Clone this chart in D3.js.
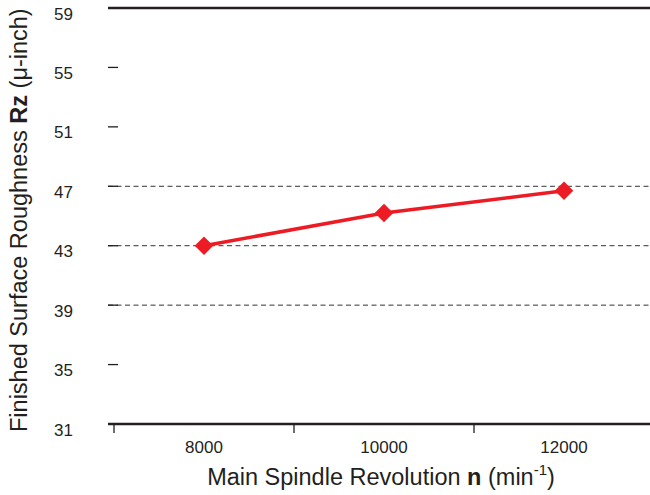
<!DOCTYPE html>
<html>
<head>
<meta charset="utf-8">
<script src="https://cdn.jsdelivr.net/npm/d3@7"></script>
<style>
  body { margin: 0; background: #fff; }
  text { font-family: "Liberation Sans", Arial, sans-serif; fill: #231f20; }
</style>
</head>
<body>
<div id="chart"></div>
<script>
// data
const categories = ["8000", "10000", "12000"];
const roughness = [43.0, 45.2, 46.7];
const yTicks = [31, 35, 39, 43, 47, 51, 55, 59];
const dashedTicks = [39, 43, 47];

const width = 650;
const height = 495;

const svg = d3.select("#chart")
    .append("svg")
    .attr("width", width)
    .attr("height", height);

const x = d3.scaleBand()
    .domain(categories)
    .range([114, 654])
    .padding(0);

const y = d3.scaleLinear()
    .domain([31, 59])
    .range([424, 8]);

const plotLeft = 108;
const plotRight = 650;

// y ticks and labels
yTicks.forEach(t => {
    const yy = y(t);
    if (t === 59 || t === 31) {
        svg.append("line")
            .attr("x1", plotLeft).attr("x2", plotRight)
            .attr("y1", yy).attr("y2", yy)
            .attr("stroke", "#231f20")
            .attr("stroke-width", 2.5);
    } else {
        if (dashedTicks.includes(t)) {
            svg.append("line")
                .attr("x1", plotLeft).attr("x2", plotRight)
                .attr("y1", yy).attr("y2", yy)
                .attr("stroke", "#333")
                .attr("stroke-width", 1)
                .attr("stroke-dasharray", "5,3.5");
        }
        svg.append("line")
            .attr("x1", plotLeft).attr("x2", plotLeft + 10)
            .attr("y1", yy).attr("y2", yy)
            .attr("stroke", "#231f20")
            .attr("stroke-width", 1.3);
    }
    svg.append("text")
        .attr("x", 73)
        .attr("y", yy + 11.5)
        .attr("text-anchor", "end")
        .attr("font-size", 17)
        .text(t);
});

// x ticks at band edges
const edges = categories.map(c => x(c)).concat([x.range()[1]]);
edges.forEach(e => {
    svg.append("line")
        .attr("x1", e).attr("x2", e)
        .attr("y1", y(31)).attr("y2", y(31) + 9)
        .attr("stroke", "#231f20")
        .attr("stroke-width", 1.3);
});

svg.selectAll(".xlab")
    .data(categories)
    .enter()
    .append("text")
    .attr("x", d => x(d) + x.bandwidth() / 2)
    .attr("y", 453)
    .attr("text-anchor", "middle")
    .attr("font-size", 17)
    .text(d => d);

// axis titles
const xt = svg.append("text")
    .attr("x", 381)
    .attr("y", 485)
    .attr("text-anchor", "middle")
    .attr("font-size", 23.5);
xt.append("tspan").text("Main Spindle Revolution ");
xt.append("tspan").attr("font-weight", "bold").text("n");
xt.append("tspan").text(" (min");
xt.append("tspan").attr("font-size", 15).attr("dy", -10).text("-1");
xt.append("tspan").attr("dy", 10).text(")");

const yt = svg.append("text")
    .attr("transform", "translate(27,432) rotate(-90)")
    .attr("text-anchor", "start")
    .attr("font-size", 23.5);
yt.append("tspan").text("Finished Surface Roughness ");
yt.append("tspan").attr("font-weight", "bold").text("Rz");
yt.append("tspan").text(" (\u03bc-inch)");

// series
const line = d3.line()
    .x((d, i) => x(categories[i]) + x.bandwidth() / 2)
    .y(d => y(d));

svg.append("path")
    .datum(roughness)
    .attr("d", line)
    .attr("fill", "none")
    .attr("stroke", "#ed1c24")
    .attr("stroke-width", 3.5);

svg.selectAll(".pt")
    .data(roughness)
    .enter()
    .append("path")
    .attr("d", d3.symbol().type(d3.symbolDiamond2).size(220))
    .attr("transform", (d, i) => "translate(" + (x(categories[i]) + x.bandwidth() / 2) + "," + y(d) + ")")
    .attr("fill", "#ed1c24");
</script>
</body>
</html>
